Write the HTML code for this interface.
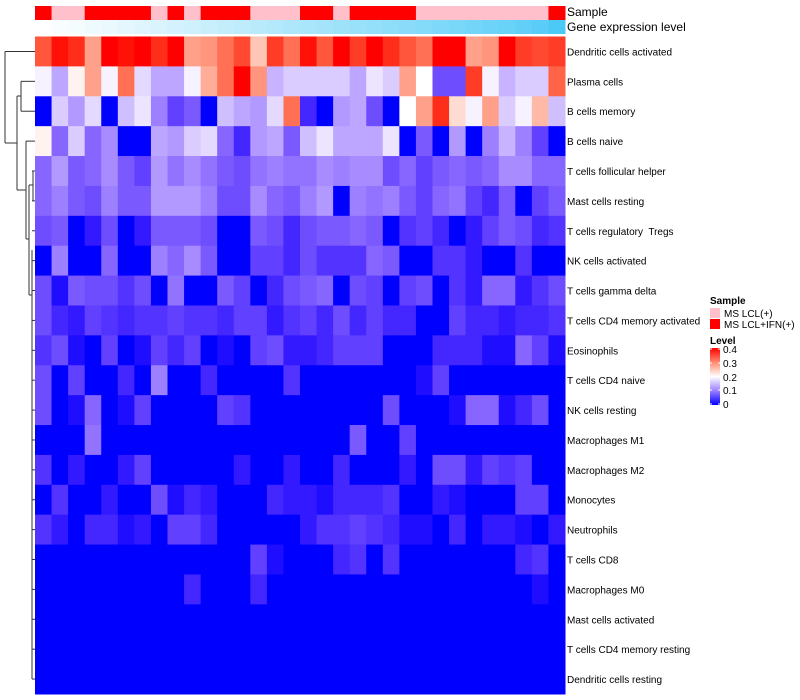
<!DOCTYPE html>
<html><head><meta charset="utf-8"><style>
html,body{margin:0;padding:0;background:#fff;width:800px;height:700px;overflow:hidden}
svg{display:block;font-family:"Liberation Sans",sans-serif}
#labels text{white-space:pre}
</style></head><body>
<svg id="chart" width="800" height="700">
  <g id="dendro" stroke="#333" stroke-width="1" fill="none"></g>
  <g id="cells"></g>
  <g id="annot"></g>
  <g id="labels" font-size="10" fill="#000" xml:space="preserve"></g>
  <text x="567" y="16" font-size="12">Sample</text>
  <text x="567" y="31" font-size="12">Gene expression level</text>
  <g font-size="10">
    <text x="710" y="304" font-weight="bold">Sample</text>
    <rect x="710" y="308" width="10" height="10" fill="#ffc0cb"/>
    <text x="724" y="317">MS LCL(+)</text>
    <rect x="710" y="319" width="10" height="10" fill="#ff0000"/>
    <text x="724" y="328">MS LCL+IFN(+)</text>
    <text x="710" y="344" font-weight="bold">Level</text>
    <defs><linearGradient id="lg" x1="0" y1="1" x2="0" y2="0">
      <stop offset="0" stop-color="#0000ff"/><stop offset="0.25" stop-color="#9d80ff"/><stop offset="0.5" stop-color="#ffffff"/><stop offset="0.75" stop-color="#ff8a6f"/><stop offset="1" stop-color="#ff0000"/>
    </linearGradient></defs>
    <rect x="710" y="348" width="10" height="57" fill="url(#lg)"/>
    <g stroke="#fff" stroke-width="1"><line x1="710" y1="349" x2="712" y2="349"/><line x1="718" y1="349" x2="720" y2="349"/><line x1="710" y1="363" x2="712" y2="363"/><line x1="718" y1="363" x2="720" y2="363"/><line x1="710" y1="377" x2="712" y2="377"/><line x1="718" y1="377" x2="720" y2="377"/><line x1="710" y1="390" x2="712" y2="390"/><line x1="718" y1="390" x2="720" y2="390"/><line x1="710" y1="404" x2="712" y2="404"/><line x1="718" y1="404" x2="720" y2="404"/></g>
    <text x="723" y="353">0.4</text>
    <text x="723" y="367">0.3</text>
    <text x="723" y="381">0.2</text>
    <text x="723" y="394">0.1</text>
    <text x="723" y="408">0</text>
  </g>
</svg>
<script>
const rowNames=["Dendritic cells activated","Plasma cells","B cells memory","B cells naive","T cells follicular helper","Mast cells resting","T cells regulatory  Tregs","NK cells activated","T cells gamma delta","T cells CD4 memory activated","Eosinophils","T cells CD4 naive","NK cells resting","Macrophages M1","Macrophages M2","Monocytes","Neutrophils","T cells CD8","Macrophages M0","Mast cells activated","T cells CD4 memory resting","Dendritic cells resting"];
const sampleGroup=["R","P","P","R","R","R","R","P","R","P","R","R","R","P","P","P","R","R","P","R","R","R","R","P","P","P","P","P","P","P","P","R"];
const geneLevel=[0,0.03,0.06,0.09,0.12,0.15,0.18,0.21,0.24,0.27,0.3,0.33,0.36,0.39,0.42,0.45,0.48,0.51,0.54,0.57,0.6,0.63,0.66,0.69,0.72,0.75,0.78,0.81,0.84,0.88,0.93,1];
const r0=[0.34,0.39,0.37,0.28,0.4,0.39,0.4,0.37,0.4,0.28,0.29,0.32,0.35,0.25,0.36,0.32,0.39,0.34,0.4,0.36,0.4,0.37,0.34,0.32,0.4,0.4,0.28,0.29,0.4,0.36,0.35,0.36];
const r1=[0.19,0.13,0.21,0.28,0.19,0.32,0.17,0.13,0.13,0.19,0.27,0.32,0.4,0.29,0.14,0.16,0.16,0.16,0.16,0.13,0.18,0.16,0.28,0.2,0.06,0.06,0.36,0.19,0.14,0.16,0.16,0.33];
const r2=[0,0.16,0.12,0.17,0,0.15,0.18,0.1,0.05,0.07,0,0.15,0.13,0.12,0.17,0.32,0.03,0,0.12,0.13,0.06,0,0.2,0.28,0.37,0.23,0.19,0.28,0.16,0.19,0.26,0.15];
const r3=[0.21,0.08,0.16,0.08,0.11,0,0,0.13,0.12,0.16,0.17,0.08,0.03,0.12,0.13,0.07,0.15,0.18,0.13,0.13,0.13,0.18,0,0.07,0,0.12,0,0.1,0.14,0.1,0.05,0];
const r4=[0.08,0.12,0.07,0.08,0.11,0.07,0.05,0.12,0.09,0.11,0.09,0.07,0.06,0.09,0.1,0.09,0.09,0.11,0.1,0.11,0.11,0.06,0.08,0.05,0.07,0.08,0.07,0.08,0.11,0.11,0.08,0.08];
const r5=[0.08,0.1,0.07,0.06,0.1,0.07,0.07,0.12,0.12,0.12,0.1,0.06,0.06,0.11,0.08,0.07,0.1,0.12,0,0.1,0.09,0.1,0.07,0.05,0.08,0.09,0.05,0.03,0.07,0,0.05,0.07];
const r6=[0.06,0.07,0,0.02,0.06,0,0.02,0.07,0.07,0.07,0.06,0,0,0.07,0.06,0.03,0.06,0.07,0.07,0.08,0.07,0,0.04,0.05,0.03,0,0.02,0.05,0.07,0.06,0.03,0.04];
const r7=[0,0.1,0,0,0.08,0,0,0.1,0.08,0.11,0.07,0,0,0.05,0.05,0.03,0.06,0.04,0.04,0.04,0.08,0.07,0,0,0.04,0.04,0.02,0,0,0.04,0,0];
const r8=[0.06,0.01,0.07,0.06,0.06,0.04,0.06,0,0.09,0,0,0.07,0.05,0,0.03,0.06,0.07,0.08,0,0.06,0.05,0,0.05,0.06,0,0.04,0.02,0.08,0.08,0.02,0.04,0.06];
const r9=[0.06,0.03,0.02,0.05,0.04,0.03,0.04,0.04,0.05,0.04,0.04,0.03,0.05,0.05,0.02,0.04,0.05,0.03,0.06,0.03,0.05,0.03,0.03,0,0,0.05,0.03,0.03,0.02,0.03,0.03,0.04];
const r10=[0.04,0.06,0.01,0,0.05,0,0.01,0.05,0.03,0.05,0,0.01,0,0.05,0.06,0.02,0.02,0.03,0.05,0.05,0.05,0,0,0,0.03,0.03,0.03,0.01,0.01,0.08,0.05,0.01];
const r11=[0.06,0,0.05,0,0,0.03,0,0.1,0,0,0.03,0,0,0,0,0.04,0,0,0,0,0,0,0,0.01,0.05,0,0,0,0,0,0,0];
const r12=[0.06,0,0.01,0.08,0,0.01,0.05,0,0,0,0,0.05,0.04,0,0,0,0,0,0,0,0,0.06,0,0,0,0.01,0.08,0.08,0.01,0.03,0.06,0];
const r13=[0,0,0,0.09,0,0,0,0,0,0,0,0,0,0,0,0,0,0,0,0.07,0,0,0.05,0,0,0,0,0,0,0,0,0];
const r14=[0.04,0,0.02,0,0,0.02,0.05,0,0,0,0,0,0.02,0,0,0.02,0,0,0.03,0,0,0,0.02,0,0.06,0.06,0.02,0.05,0.04,0.05,0,0];
const r15=[0,0.04,0,0,0.02,0,0,0.06,0.01,0.03,0.02,0,0,0,0.03,0.02,0.02,0.01,0.03,0.03,0.03,0.04,0,0,0.02,0.01,0,0,0,0.05,0.05,0];
const r16=[0.04,0.02,0,0.03,0.03,0.01,0.02,0,0.05,0.05,0.03,0,0,0,0,0,0.02,0.04,0.04,0.05,0.04,0.03,0.01,0.01,0,0.03,0,0.02,0.02,0.01,0,0.02];
const r17=[0,0,0,0,0,0,0,0,0,0,0,0,0,0.05,0.01,0,0,0,0.03,0.04,0,0.04,0,0,0,0,0,0,0,0.03,0.04,0];
const r18=[0,0,0,0,0,0,0,0,0,0.03,0,0,0,0.03,0,0,0,0,0,0,0,0,0,0,0,0,0,0,0,0,0.01,0];
const r19=[0,0,0,0,0,0,0,0,0,0,0,0,0,0,0,0,0,0,0,0,0,0,0,0,0,0,0,0,0,0,0,0];
const r20=[0,0,0,0,0,0,0,0,0,0,0,0,0,0,0,0,0,0,0,0,0,0,0,0,0,0,0,0,0,0,0,0];
const r21=[0,0,0,0,0,0,0,0,0,0,0,0,0,0,0,0,0,0,0,0,0,0,0,0,0,0,0,0,0,0,0,0];
const matrix=[r0,r1,r2,r3,r4,r5,r6,r7,r8,r9,r10,r11,r12,r13,r14,r15,r16,r17,r18,r19,r20,r21];

const NS="http://www.w3.org/2000/svg";
const X0=35,X1=565,Y0=36.5,Y1=694;
const nC=sampleGroup.length,nR=rowNames.length;
const cw=(X1-X0)/nC,rh=(Y1-Y0)/nR;
const xPos=c=>X0+c*cw, yPos=r=>Y0+r*rh;
function col(v){
  v=Math.max(0,Math.min(0.4,v));
  let r,g,b;
  if(v<=0.2){const t=v/0.2;r=255*Math.pow(t,0.7);g=255*t;b=255;}
  else{const t=(v-0.2)/0.2;r=255;g=255*Math.pow(1-t,0.9);b=255*Math.pow(1-t,1.2);}
  return `rgb(${Math.round(r)},${Math.round(g)},${Math.round(b)})`;
}
function mk(tag,attrs,parent){const e=document.createElementNS(NS,tag);for(const k in attrs)e.setAttribute(k,attrs[k]);parent.appendChild(e);return e;}
const cells=document.getElementById('cells');
matrix.forEach((row,ri)=>row.forEach((v,ci)=>{
  const e=mk('rect',{x:xPos(ci),y:yPos(ri),width:cw+0.5,height:rh+0.5,fill:col(v)},cells);
  
  
}));
const labels=document.getElementById('labels');
rowNames.forEach((n,ri)=>{
  const t=mk('text',{x:567,y:yPos(ri)+rh/2+4},labels);t.textContent=n;
  
  
});
const annot=document.getElementById('annot');
sampleGroup.forEach((s,ci)=>{
  const e=mk('rect',{x:xPos(ci),y:6,width:cw+0.5,height:14,fill:s==="R"?"#ff0000":"#ffc0cb"},annot);
  
  
  const t=geneLevel[ci];
  const c=`rgb(${Math.round(255+(76-255)*t)},${Math.round(255+(201-255)*t)},${Math.round(255+(246-255)*t)})`;
  const g=mk('rect',{x:xPos(ci),y:20,width:cw+0.5,height:14,fill:c},annot);
  
  
});
const d=document.getElementById('dendro');
const cy=r=>yPos(r)+rh/2;
const L=(x1,y1,x2,y2)=>mk('line',{x1,y1,x2,y2},d);
L(5,cy(0),5,143);L(5,cy(0),35,cy(0));L(5,143,17,143);
L(17,96,17,190);L(17,96,21,96);L(17,190,26,190);
L(21,cy(1),21,cy(2));L(21,cy(1),35,cy(1));L(21,cy(2),35,cy(2));
L(26,cy(3),26,239);L(26,cy(3),35,cy(3));L(26,239,29,239);
L(29,185,29,295);L(29,185,33,185);L(29,295,32,295);
L(33,cy(4),33,cy(5));L(32,250,32,cy(21));
for(let r=4;r<nR;r++){L(32,cy(r),35,cy(r));}
</script>
</body></html>
